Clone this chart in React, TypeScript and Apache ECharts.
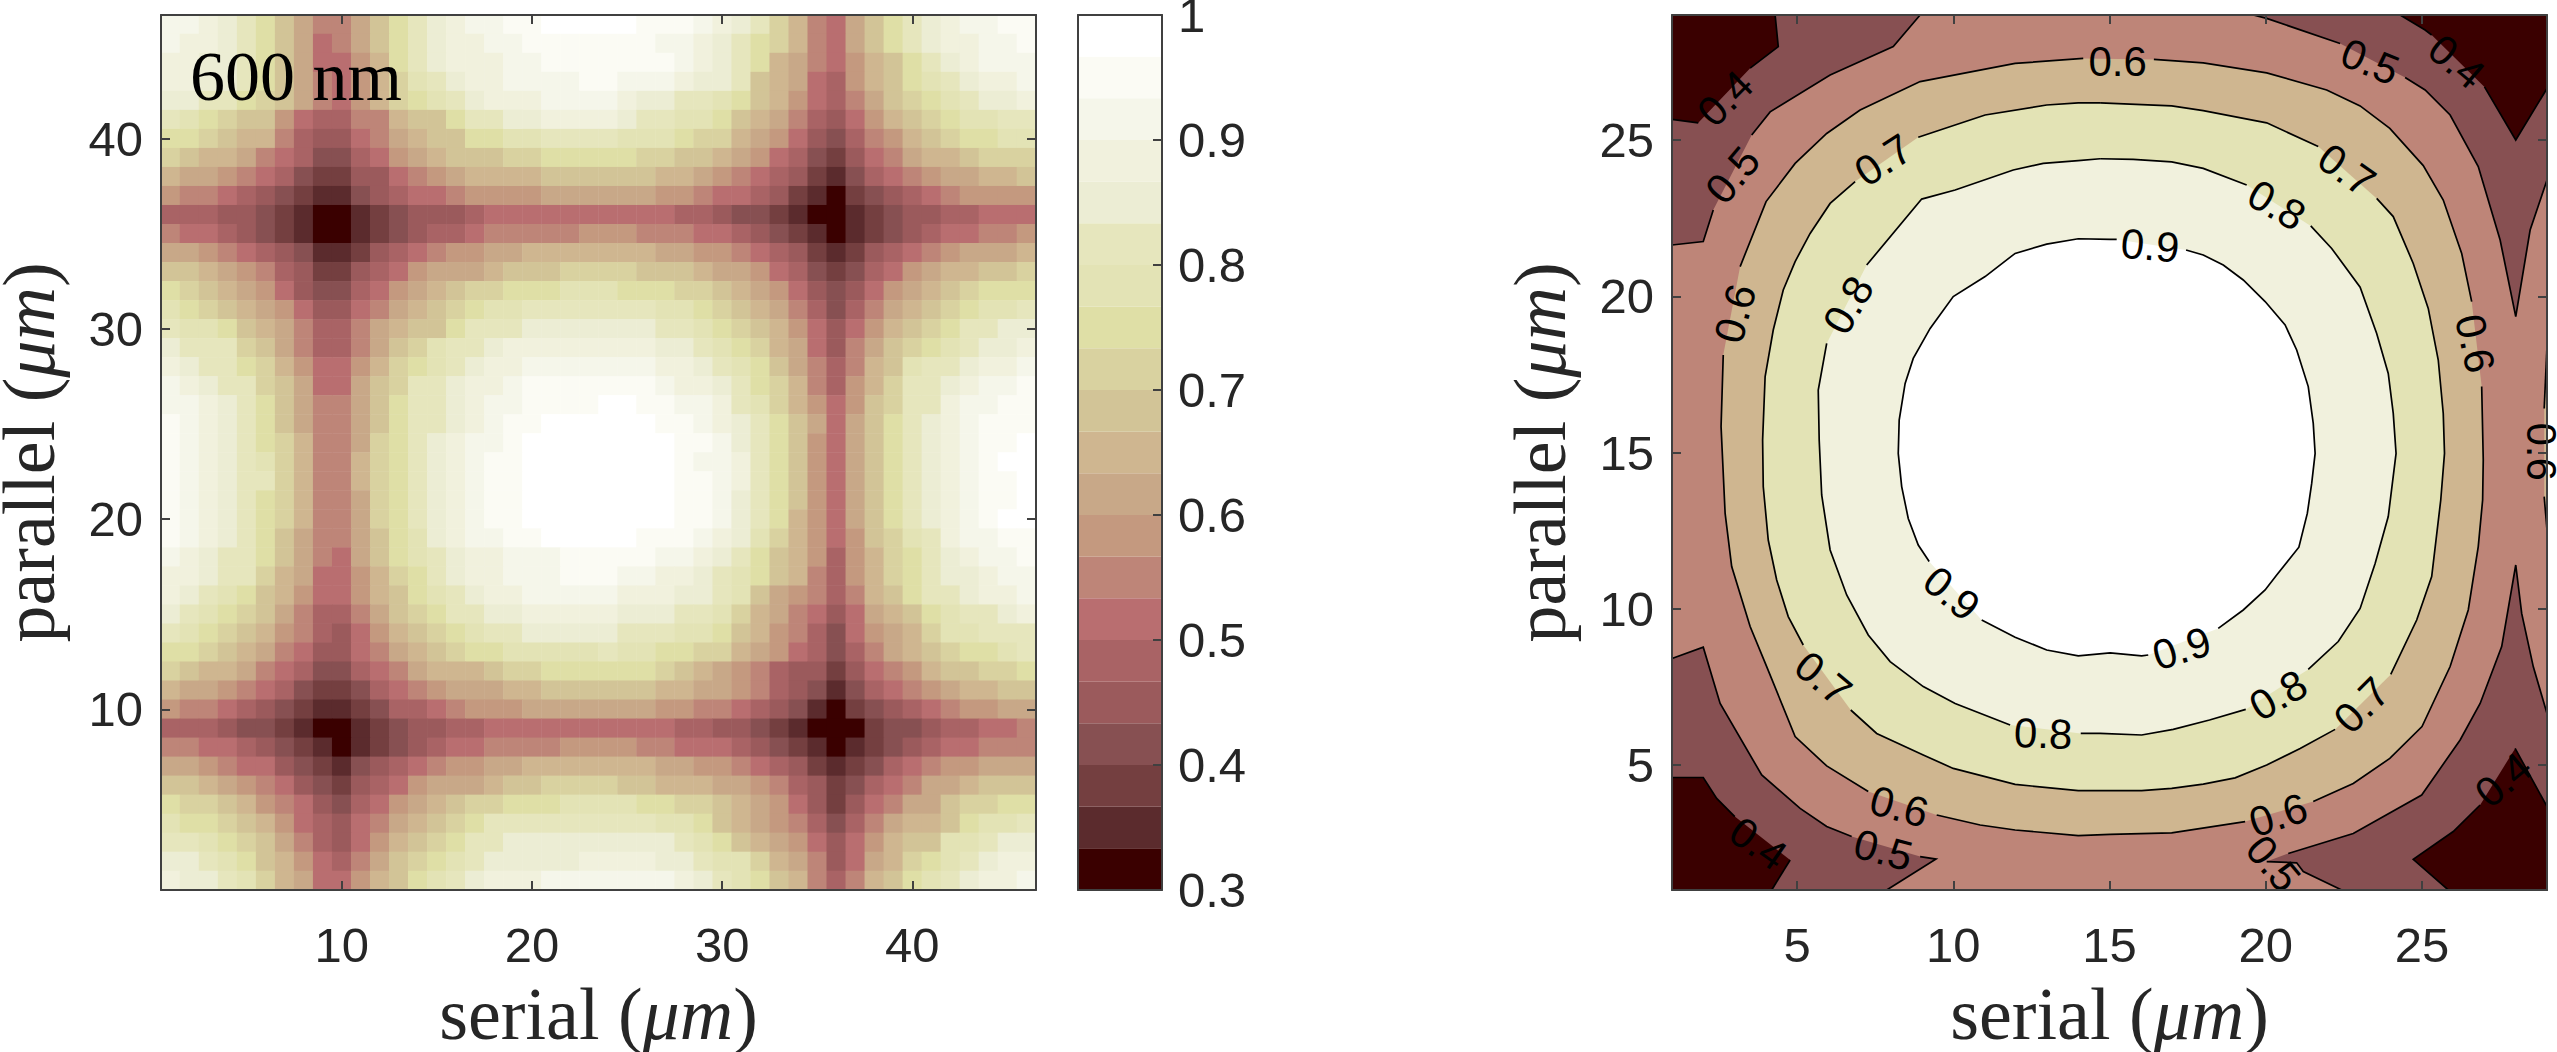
import React, { useEffect, useRef } from "react";
import * as echarts from "echarts";

type Pt = [number, number] | null;

// 21 colour bands of the colour bar, lowest first (0.3 .. 1, width 1/30 each)
const bandColors = ["#3a0000","#5b2b2d","#743f40","#875052","#9b5a5c","#a96365","#b96e70","#be8578","#c4997f","#c8a888","#cfb690","#d2c497","#d9d2a0","#dfdfa6","#e3e3b5","#e6e6bd","#ecedd4","#f1f1dd","#f5f6ea","#fbfbf4","#ffffff"];
const barTicks = [0.3, 1];

// heat map: band index of each cell, first list is parallel = 46, each list runs serial = 1 .. 46
const heatRows: number[][] = [
[18,18,17,16,15,13,11,9,7,7,9,11,13,15,16,17,18,18,19,19,20,20,20,20,20,19,19,19,18,17,16,15,12,10,7,6,9,11,13,15,16,17,18,18,19,19],
[18,17,17,16,15,13,11,9,6,7,9,11,13,15,16,17,17,18,18,19,19,19,19,19,19,19,18,18,17,16,15,13,12,10,7,6,9,11,13,15,16,17,17,18,18,19],
[17,17,16,16,15,13,11,9,6,6,8,10,13,15,16,17,17,17,18,18,19,19,19,19,19,19,19,18,17,16,15,13,10,9,7,6,8,10,11,13,15,16,17,18,18,18],
[17,17,16,16,15,13,11,9,7,6,8,10,12,14,15,16,17,17,18,18,18,18,19,19,18,18,18,17,16,16,15,11,10,9,6,5,8,10,11,13,14,15,16,17,17,18],
[16,16,15,15,13,12,11,9,7,6,8,10,12,13,14,15,16,17,17,17,18,18,18,18,17,16,16,15,15,14,13,11,10,8,6,5,7,9,11,12,13,14,15,16,16,17],
[15,14,13,12,11,11,8,6,5,5,7,7,10,11,11,13,15,15,16,16,17,17,17,17,16,15,15,14,14,13,11,10,9,7,5,4,6,8,10,11,12,13,14,14,15,15],
[13,13,12,11,10,10,7,5,4,4,6,7,9,10,11,11,13,13,14,14,15,15,15,15,14,14,14,13,12,12,10,9,8,6,4,3,5,7,8,10,11,12,13,13,14,14],
[12,11,10,10,9,7,6,5,3,3,5,6,8,9,10,11,11,11,12,12,13,13,13,13,13,12,12,11,11,10,9,8,6,5,3,2,4,6,7,9,10,10,11,12,12,12],
[10,9,9,8,7,6,5,3,2,2,4,4,6,7,8,9,10,10,10,10,11,11,11,11,11,11,10,10,9,8,7,6,5,4,2,1,3,5,6,7,8,9,9,10,10,11],
[8,7,7,6,5,4,3,2,1,1,3,4,5,6,6,7,8,8,8,8,9,9,9,9,9,9,8,8,7,6,6,5,4,2,1,0,2,3,4,5,6,7,8,8,8,8],
[5,5,5,4,4,3,2,1,0,0,1,2,3,4,4,4,5,6,6,6,6,6,6,6,6,6,6,5,5,4,3,3,2,1,0,0,1,2,3,4,4,5,5,6,6,6],
[7,6,6,5,4,3,2,1,0,0,1,2,3,4,5,5,6,7,7,7,7,7,8,8,8,7,7,7,6,6,5,4,3,2,1,0,1,2,3,4,5,6,6,7,7,8],
[9,9,8,7,6,5,4,3,1,1,2,4,5,6,7,8,8,9,9,10,10,10,10,10,10,10,9,9,8,8,7,6,5,4,2,1,2,4,5,6,7,8,9,9,9,10],
[11,11,10,9,8,7,5,4,2,2,4,5,6,8,9,9,9,10,11,11,11,12,12,12,12,11,11,11,10,9,9,8,6,5,3,2,3,5,6,8,9,10,10,11,11,12],
[13,12,11,10,9,8,6,4,3,3,5,6,8,9,10,11,12,12,13,13,13,14,14,14,13,13,13,12,12,11,10,9,8,6,4,3,4,6,8,9,10,11,12,13,13,13],
[14,13,12,11,10,9,8,6,4,4,6,7,9,10,11,12,13,14,14,15,15,15,15,15,15,15,14,14,13,12,11,10,9,7,5,3,5,7,9,10,11,12,13,14,14,15],
[15,14,14,13,11,10,9,7,5,5,7,9,10,11,11,13,15,15,15,16,16,16,16,16,16,16,15,15,14,13,12,11,10,8,6,4,6,8,10,11,12,13,15,15,16,16],
[16,15,15,15,12,11,9,7,5,5,7,9,11,12,14,15,15,16,17,17,17,17,17,17,17,17,16,16,15,14,13,12,10,9,6,4,7,9,11,12,13,14,15,16,16,17],
[17,16,15,15,13,12,10,8,6,6,8,10,12,13,14,15,16,17,17,18,18,18,18,18,18,18,17,17,16,15,14,13,11,9,7,5,7,10,11,14,15,15,16,17,17,18],
[18,17,16,15,15,12,11,9,6,6,9,11,12,15,15,16,17,17,18,19,19,19,19,19,19,19,18,17,17,16,15,13,12,10,7,5,8,10,12,15,15,16,17,18,18,19],
[18,18,17,16,15,13,11,9,7,7,9,11,13,15,15,16,17,18,18,19,19,19,19,20,20,19,19,18,18,17,15,14,12,10,8,6,8,11,12,15,15,17,18,18,19,19],
[19,18,17,16,15,13,11,9,7,7,9,11,13,15,15,16,17,18,19,19,20,20,20,20,20,20,19,19,18,17,16,15,13,11,9,6,9,11,13,15,16,17,18,19,19,19],
[19,18,17,16,15,13,12,10,7,7,9,12,13,15,16,17,18,18,19,20,20,20,20,20,20,20,20,19,19,18,16,15,13,11,8,6,9,11,13,15,16,17,18,19,19,20],
[19,18,17,16,15,14,12,10,7,7,10,12,13,15,16,17,18,19,19,20,20,20,20,20,20,20,20,19,18,18,17,15,13,11,8,6,9,11,13,15,16,17,18,19,20,20],
[19,18,17,16,15,15,12,10,7,7,10,12,13,15,16,17,18,19,19,20,20,20,20,20,20,20,20,19,19,18,17,15,13,11,8,6,9,11,13,15,16,17,18,19,19,20],
[19,18,17,16,15,13,12,10,7,7,9,12,13,15,16,17,18,19,19,20,20,20,20,20,20,20,20,19,19,18,16,15,13,11,8,6,9,11,13,15,16,17,18,19,19,20],
[19,18,17,16,15,13,12,10,7,7,9,12,13,15,16,17,18,19,19,20,20,20,20,20,20,20,20,19,19,18,16,15,13,10,8,6,9,11,13,15,16,17,18,19,20,20],
[19,18,17,16,15,13,11,9,7,7,9,11,13,14,16,17,18,18,19,19,20,20,20,20,20,19,19,19,18,17,16,14,12,10,8,6,8,11,12,14,15,17,18,18,19,19],
[18,17,16,15,15,13,11,9,7,6,9,11,13,14,15,16,17,17,18,18,18,19,19,19,19,19,18,18,17,16,15,13,11,10,8,5,8,10,12,13,15,16,17,18,18,19],
[17,17,16,15,15,12,10,9,6,6,8,10,12,13,15,16,17,17,18,18,18,19,19,19,18,18,17,17,16,15,14,13,11,10,7,5,8,10,12,13,15,16,16,17,18,18],
[17,16,15,14,13,11,10,8,6,6,8,10,11,13,14,15,16,17,17,18,18,18,18,18,17,17,17,16,16,15,14,11,9,8,7,5,7,10,11,13,15,15,16,17,17,18],
[16,15,14,13,12,11,9,7,5,5,7,9,11,12,13,15,15,16,16,17,17,17,17,17,16,16,16,15,15,14,12,10,9,7,6,4,6,9,10,11,13,14,15,15,16,17],
[15,14,13,12,11,10,8,7,5,4,6,8,10,11,12,13,14,15,15,16,16,16,16,16,15,15,15,14,14,13,11,10,8,7,5,3,6,8,9,10,12,14,14,15,15,15],
[13,13,12,11,10,9,7,6,4,4,6,7,9,10,11,12,13,13,14,14,14,14,14,15,14,14,13,13,12,12,10,9,8,6,5,3,5,7,9,10,11,12,13,13,14,15],
[12,11,10,10,9,7,6,5,3,3,5,6,7,9,10,10,10,11,12,12,13,13,13,13,13,13,12,11,10,9,8,7,5,4,4,2,4,6,7,8,10,11,11,12,12,13],
[10,9,9,8,7,6,5,3,2,2,3,5,6,7,8,9,9,9,10,10,11,11,11,11,11,11,10,10,9,9,8,7,5,4,3,1,3,5,6,7,8,9,10,10,11,11],
[8,7,7,6,5,4,3,2,1,1,2,3,5,5,6,7,8,8,8,9,9,9,9,9,9,9,8,8,7,7,6,5,4,3,1,0,2,3,4,5,6,7,8,8,9,9],
[5,5,5,4,3,3,2,1,0,0,1,2,3,4,4,5,5,6,6,6,6,6,6,6,6,6,6,5,5,4,4,3,2,1,0,0,0,2,3,3,4,5,5,6,6,7],
[7,7,6,6,5,4,3,2,1,0,1,2,3,4,5,6,6,7,7,7,7,8,8,8,8,7,7,6,6,6,5,4,3,2,1,0,1,2,3,4,5,6,6,7,7,7],
[9,9,8,7,6,6,4,3,2,1,3,4,5,6,7,8,8,9,9,10,10,10,10,10,10,10,9,9,8,8,7,6,5,4,2,1,2,3,5,6,7,8,8,9,9,9],
[11,11,10,9,8,7,6,4,3,2,4,5,6,8,9,9,9,10,11,11,12,12,12,12,11,11,10,10,10,9,9,8,7,5,4,2,3,5,6,7,9,9,10,11,11,11],
[13,12,12,11,10,8,7,6,4,3,5,6,8,9,10,11,12,12,13,13,13,14,14,14,14,13,13,12,12,11,10,9,8,6,4,2,4,6,7,9,9,11,12,12,13,13],
[14,13,13,12,11,10,8,6,5,4,6,7,9,10,11,12,13,15,15,15,15,15,15,15,15,15,14,14,13,11,10,9,8,7,5,3,5,7,9,10,10,11,13,14,14,15],
[15,15,14,13,12,11,9,7,5,4,6,8,10,11,12,13,15,15,16,16,16,16,16,16,16,16,16,15,14,13,11,10,9,8,6,4,6,8,10,11,11,14,14,15,16,16],
[16,16,15,14,13,11,10,8,6,5,7,9,11,12,13,14,15,16,16,16,16,16,17,17,17,17,16,16,15,14,14,12,10,9,7,4,6,9,10,12,13,14,15,16,17,17],
[17,16,16,15,14,12,10,9,6,6,8,10,11,13,14,15,16,17,17,17,18,18,18,18,18,18,18,17,16,15,14,13,11,10,7,5,7,10,11,13,14,15,16,17,17,18],
];
const heatCats = heatRows.map((_, i) => String(i + 1));
const heatTicks = [10, 20, 30, 40];

// right panel ticks
const contourTicks = [5, 10, 15, 20, 25];

// contour lines in (serial, parallel); null is a break in the line where a label sits
const plane: Pt[] = [[1, 1], [29, 1], [29, 29], [1, 29]];
const dark05TL: Pt[] = [[8.94,29],[8.08,27.99],[6.06,27.08],[4.14,25.9],[3.55,25.16],null,[2.32,22.76],[2,21.75],[1,21.64]];
const dark05TR: Pt[] = [[19.6,29],[20.03,28.89],[22.38,28.09],null,[24.46,27],[25.1,26.6],[25.9,25.8],[26.8,24.15],[27.5,21.8],[28,19.35],[28.46,22.12],[29,23.72]];
const dark05BL: Pt[] = [[1,8.41],[2,8.77],[2.54,6.97],[3.87,4.68],[5.1,3.61],[5.95,3.03],[6.75,2.71],null,[8.94,2.07],[9.45,1.99],[7.87,1]];
const dark05BR: Pt[] = [[29,6.65],[28.56,8.15],[28.19,9.85],[28,11.4],[27.55,8.79],[26.86,6.97],[26.22,5.8],[24.99,4.04],[22.8,2.81],[20.72,2.17],null,[20.03,1.91],[20.99,1.87],[21.2,1.59],[22.43,1]];
const dark04TL: Pt[] = [[4.3,29],[4.4,27.99],[3.5,27.3],null,[1.84,25.55],[1,25.66]];
const dark04TR: Pt[] = [[24.3,29],[25.1,28.52],[25.31,28.36],null,[27,26.7],[28,25],[29,26.65]];
const dark04BL: Pt[] = [[1,4.6],[2,4.6],[2.43,3.93],[3.01,3.35],null,[4.78,1.96],[4.19,1]];
const dark04BR: Pt[] = [[27.98,5.53],[29,3.67],[29,1],[25.84,1],[24.72,1.98],[26,2.87],[26.86,3.72],null,[27.98,5.53]];
const level06: Pt[] = [[16.42,27.58],[18,27.47],[20.03,27.15],[21.95,26.6],[23.02,26.09],[23.97,25.37],[25.04,24.18],[25.68,23.08],[26.27,21.37],[26.59,19.83],null,[26.91,17.11],[26.96,14.76],[26.94,13.48],[26.8,11.99],[26.48,9.96],[25.9,8.15],[25,6.23],[23.97,5.21],[22.8,4.41],[21.52,3.83],null,[19.34,3.19],[16.99,2.83],[15.02,2.78],[14,2.74],[11.98,2.92],[10.86,3.08],[9.47,3.4],null,[7.28,4.15],[5.95,4.97],[4.94,5.91],[4.03,8.15],[3.5,9.43],[2.91,11.35],[2.7,13.05],[2.59,15.4],[2.57,15.83],[2.64,18.12],null,[3.18,20.95],[4.01,23.03],[4.94,24.25],[5.95,25.21],[7.02,25.96],[8.94,26.87],[11.98,27.45],[14.16,27.61]];
const level06Edge: Pt[] = [[29,18.39],[28.91,16.41],null,[28.91,13.59],[29,12.52]];
const level07: Pt[] = [[14.7,26.19],[16.99,26.09],[18,25.94],[20.03,25.55],[21.68,24.79],null,[23.55,23.13],[24.08,22.55],[24.72,21.05],[25.2,19.61],[25.52,17.96],[25.68,16.25],[25.72,14.97],[25.6,13.48],[25.31,11.03],[24.83,9.64],[24,7.9],null,[22.22,6.14],[21.1,5.53],[20.03,5],[19.02,4.59],[18,4.39],[16.99,4.25],[16.03,4.18],[14,4.18],[11.98,4.38],[10,4.89],[9.04,5.32],[7.55,6.01],[6.72,6.76],null,[5.2,8.84],[4.72,9.75],[4.35,10.92],[4.08,12.2],[3.92,13.91],[3.9,15.4],[3.98,17.43],[4.24,18.92],[4.56,20.2],[4.94,21.11],[5.42,22.01],[6.06,22.97],[6.86,23.67],null,[8.88,25.09],[11.02,25.8],[12.99,26.12],[14,26.19],[14.7,26.19]];
const level08: Pt[] = [[14.7,24.4],[15.76,24.38],[16.99,24.3],[18,24.09],[19.39,23.56],null,[21.44,22.25],[22.11,21.53],[23.02,20.29],[23.55,18.81],[23.92,17.53],[24.08,16.25],[24.17,14.97],[23.92,12.95],[23.5,11.45],[23.02,10.01],[22.32,8.95],[21.36,8.06],null,[19.36,6.78],[18.2,6.44],[17.04,6.14],[16.03,5.96],[14.7,6.01],[14.08,6.01],null,[11.82,6.28],[10.06,6.97],[9.04,7.51],[7.98,8.31],[7.28,9.16],[6.59,10.44],[6.06,11.88],[5.79,13.64],[5.71,15.4],[5.68,17],[5.95,18.49],null,[7.23,21],[8.99,23.11],[10.06,23.4],[11.92,24.04],[12.88,24.25],[14,24.34],[14.7,24.4]];
const level09: Pt[] = [[17.45,21.48],[18,21.32],[18.64,21],[19.28,20.52],[19.98,19.83],[20.62,19.08],[20.99,18.28],[21.36,17.11],[21.52,15.93],[21.58,14.97],[21.47,14.01],[21.33,13.05],[21.06,11.97],[20.35,11.08],[19.98,10.6],[19.28,9.96],[18.48,9.37],null,[16.24,8.52],[16.03,8.49],[15.02,8.59],[14,8.49],[12.99,8.68],[11.98,9.09],[10.91,9.64],null,[9.23,11.51],[8.88,12.04],[8.56,12.89],[8.35,13.91],[8.24,14.97],[8.27,16.04],[8.46,17.21],[8.72,18.01],[9.26,18.97],[10,19.99],[11.02,20.63],[11.98,21.37],[12.99,21.67],[14,21.84],[15.02,21.82],[15.23,21.82]];

// index into bandColors, the contour's line, and the corner points that close its filled area
const contourFills: { band: number; line: Pt[]; close: Pt[]; stroke: boolean }[] = [
  { band: 7, line: plane, close: [], stroke: false },
  { band: 3, line: dark05TL, close: [[1, 29]], stroke: true },
  { band: 3, line: dark05TR, close: [[29, 29]], stroke: true },
  { band: 3, line: dark05BL, close: [[1, 1]], stroke: true },
  { band: 3, line: dark05BR, close: [[29, 1]], stroke: true },
  { band: 0, line: dark04TL, close: [[1, 29]], stroke: true },
  { band: 0, line: dark04TR, close: [[29, 29]], stroke: true },
  { band: 0, line: dark04BL, close: [[1, 1]], stroke: true },
  { band: 0, line: dark04BR, close: [], stroke: true },
  { band: 10, line: level06, close: [], stroke: true },
  { band: 10, line: level06Edge, close: [], stroke: true },
  { band: 14, line: level07, close: [], stroke: true },
  { band: 17, line: level08, close: [], stroke: true },
  { band: 20, line: level09, close: [], stroke: true },
];

// contour labels: serial, parallel, text, angle of the text in degrees
const contourLabels: [number, number, string, number][] = [
  [2.7,26.33,"0.4",45],[2.94,23.88,"0.5",50],[3.02,19.45,"0.6",75],[6.64,19.72,"0.8",60],[7.76,24.36,"0.7",33],[15.26,27.5,"0.6",0],
  [16.3,21.62,"0.9",-5],[20.35,22.92,"0.8",-30],[22.59,24.04,"0.7",-35],[23.34,27.51,"0.5",-22],[26.11,27.51,"0.4",-40],[26.7,18.49,"0.6",-78],[28.81,15.03,"0.6",-90],
  [9.95,10.49,"0.9",-40],[5.84,7.77,"0.7",-40],[12.88,6.01,"0.8",-2],[8.27,3.67,"0.6",-15],[7.76,2.28,"0.5",-15],[3.76,2.49,"0.4",-35],
  [17.31,8.73,"0.9",17],[20.4,7.24,"0.8",30],[23.07,6.92,"0.7",45],[20.4,3.4,"0.6",18],[20.24,1.85,"0.5",-50],[27.6,4.52,"0.4",40],
];

const FRAME = "#404040";
const INK = "#262626";
const SANS = "'Liberation Sans', Arial, sans-serif";
const SERIF = "'Liberation Serif', serif";
const LABEL_SIZE = 49;
const NAME_SIZE = 74;

const lineStyle = { color: FRAME, width: 2 };
const richName = (word: string) => `{r|${word} (}{i|μm}{r|)}`;
const nameRich = {
  r: { fontFamily: SERIF, fontSize: NAME_SIZE, lineHeight: 72, color: INK },
  i: { fontFamily: SERIF, fontSize: NAME_SIZE, lineHeight: 72, fontStyle: "italic", color: INK },
};

function baseAxis(gridIndex: number, position: string) {
  return {
    gridIndex,
    position,
    z: 10,
    axisLine: { show: true, onZero: false, lineStyle },
    splitLine: { show: false },
    axisTick: { show: false },
    axisLabel: { show: false },
  };
}
const labelStyle = (margin: number) => ({ show: true, margin, fontSize: LABEL_SIZE, fontFamily: SANS, color: INK });

function heatAxis(position: string, label: boolean, name?: string) {
  const show = (_: number, v: string) => heatTicks.includes(Number(v));
  const vertical = position === "left" || position === "right";
  return {
    ...baseAxis(0, position),
    type: "category",
    data: heatCats,
    boundaryGap: true,
    axisTick: { show: true, inside: true, length: 9, alignWithLabel: true, interval: show, lineStyle },
    axisLabel: label ? { ...labelStyle(vertical ? 18 : 30), interval: show } : { show: false },
    ...(name
      ? { name: richName(name), nameLocation: "middle", nameGap: vertical ? 96 : 88, nameRotate: vertical ? 90 : 0, nameTextStyle: { rich: nameRich } }
      : {}),
  };
}

function contourAxis(position: string, label: boolean, name?: string) {
  const vertical = position === "left" || position === "right";
  return {
    ...baseAxis(2, position),
    type: "value",
    min: 1,
    max: 29,
    axisTick: { show: true, inside: true, length: 9, customValues: contourTicks, lineStyle },
    axisLabel: label ? { ...labelStyle(vertical ? 18 : 30), customValues: contourTicks } : { show: false },
    ...(name
      ? { name: richName(name), nameLocation: "middle", nameGap: vertical ? 96 : 88, nameRotate: vertical ? 90 : 0, nameTextStyle: { rich: nameRich } }
      : {}),
  };
}

function barValueAxis(position: string, ticks: boolean) {
  return {
    ...baseAxis(1, position),
    type: "value",
    min: barTicks[0],
    max: barTicks[1],
    interval: 0.1,
    axisTick: ticks ? { show: true, inside: true, length: 9, lineStyle } : { show: false },
    axisLabel: ticks ? labelStyle(16) : { show: false },
  };
}

function barSideAxis(position: string) {
  return { ...baseAxis(1, position), type: "value", min: 0, max: 1 };
}

export default function App() {
  const ref = useRef<HTMLDivElement>(null);
  useEffect(() => {
    document.body.style.margin = "0";
    const chart = echarts.init(ref.current!, undefined, { renderer: "svg" });
    const heatData: number[][] = [];
    heatRows.forEach((row, r) => row.forEach((v, c) => heatData.push([c, heatRows.length - 1 - r, v])));
    const band = (barTicks[1] - barTicks[0]) / bandColors.length;
    chart.setOption({
      animation: false,
      backgroundColor: "#ffffff",
      grid: [
        { left: 161, top: 15, width: 875, height: 875, outerBoundsMode: "none" },
        { left: 1078, top: 15, width: 84, height: 875, outerBoundsMode: "none" },
        { left: 1672, top: 15, width: 875, height: 875, outerBoundsMode: "none" },
      ],
      xAxis: [
        heatAxis("bottom", true, "serial"),
        heatAxis("top", false),
        barSideAxis("bottom"),
        barSideAxis("top"),
        contourAxis("bottom", true, "serial"),
        contourAxis("top", false),
      ],
      yAxis: [
        heatAxis("left", true, "parallel"),
        heatAxis("right", false),
        barValueAxis("left", false),
        barValueAxis("right", true),
        contourAxis("left", true, "parallel"),
        contourAxis("right", false),
      ],
      visualMap: {
        type: "piecewise",
        show: false,
        seriesIndex: 0,
        dimension: 2,
        pieces: bandColors.map((color, i) => ({ value: i, color })),
      },
      series: [
        {
          type: "heatmap",
          xAxisIndex: 0,
          yAxisIndex: 0,
          data: heatData,
          itemStyle: { borderWidth: 0 },
          progressive: 0,
          silent: true,
        },
        {
          type: "custom",
          xAxisIndex: 2,
          yAxisIndex: 3,
          silent: true,
          data: bandColors.map((_, i) => [0, barTicks[0] + i * band]),
          renderItem: (params: any, api: any) => {
            const i = params.dataIndex;
            const a = api.coord([0, barTicks[0] + i * band]);
            const b = api.coord([1, barTicks[0] + (i + 1) * band]);
            return {
              type: "rect",
              shape: { x: a[0], y: b[1], width: b[0] - a[0], height: a[1] - b[1] },
              style: { fill: bandColors[i], stroke: null },
            };
          },
        },
        {
          type: "custom",
          xAxisIndex: 4,
          yAxisIndex: 4,
          silent: true,
          data: contourFills.map((_, i) => [1, 1 + i]),
          renderItem: (params: any, api: any) => {
            const f = contourFills[params.dataIndex];
            const toPx = (p: Pt) => api.coord(p as number[]);
            const fillPts = [...f.line, ...f.close].filter(Boolean).map(toPx);
            const children: any[] = [
              { type: "polygon", shape: { points: fillPts }, style: { fill: bandColors[f.band], stroke: null } },
            ];
            if (f.stroke) {
              let run: number[][] = [];
              const flush = () => {
                if (run.length > 1) {
                  children.push({ type: "polyline", shape: { points: run }, style: { fill: null, stroke: "#000000", lineWidth: 1.7 } });
                }
                run = [];
              };
              f.line.forEach((p) => {
                if (p) run.push(toPx(p));
                else flush();
              });
              flush();
            }
            return { type: "group", children };
          },
        },
        {
          type: "custom",
          xAxisIndex: 4,
          yAxisIndex: 4,
          silent: true,
          z: 5,
          clip: false,
          data: contourLabels.map((l) => [l[0], l[1]]),
          renderItem: (params: any, api: any) => {
            const l = contourLabels[params.dataIndex];
            const p = api.coord([l[0], l[1]]);
            return {
              type: "text",
              x: p[0],
              y: p[1],
              rotation: (l[3] * Math.PI) / 180,
              style: { text: l[2], fontFamily: SANS, fontSize: 42, fill: "#000000", align: "center", verticalAlign: "middle" },
            };
          },
        },
      ],
      graphic: [
        {
          type: "text",
          x: 190,
          y: 111,
          z: 20,
          style: { text: "600 nm", fontFamily: SERIF, fontSize: 70, fill: "#000000", verticalAlign: "bottom" },
        },
      ],
    });
    return () => chart.dispose();
  }, []);
  return <div ref={ref} style={{ position: "absolute", left: 0, top: 0, width: 2557, height: 1052 }} />;
}
